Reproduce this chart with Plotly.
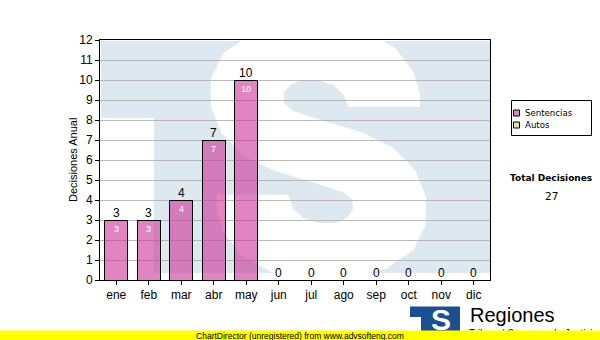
import plotly.graph_objects as go

# ---------------- data ----------------
months = ["ene", "feb", "mar", "abr", "may", "jun", "jul", "ago", "sep", "oct", "nov", "dic"]
sentencias = [3, 3, 4, 7, 10, 0, 0, 0, 0, 0, 0, 0]
autos = [0, 0, 0, 0, 0, 0, 0, 0, 0, 0, 0, 0]
series_names = ["Sentencias", "Autos"]
y_ticks = list(range(0, 13))
y_title = "Decisiones Anual"
total_label = "Total Decisiones"
footer_text = "ChartDirector (unregistered) from www.advsofteng.com"

# ---------------- layout constants ----------------
W, H = 600, 340
L, R, T, B = 100, 110, 40, 60
PW, PH = W - L - R, H - T - B

def px2paper(x, y):
    return (x - L) / PW, 1 - (y - T) / PH

def wm(zx, zy):
    # watermark design units -> pixels
    return 95 + zx / 3.0, 35 + zy / 3.0

def path_from(points):
    parts = []
    for i, (zx, zy) in enumerate(points):
        px, py = wm(zx, zy)
        X, Y = px2paper(px, py)
        parts.append(("M" if i == 0 else "L") + f"{X:.4f},{Y:.4f}")
    return " ".join(parts) + " Z"

s_points = [
    (760, 215), (745, 178), (715, 150), (670, 136), (620, 135), (585, 150), (566, 175),
    (568, 205), (595, 228), (680, 256), (800, 292), (895, 338), (960, 405), (993, 485),
    (992, 570), (955, 645), (875, 700), (770, 725), (650, 730), (530, 712), (440, 662),
    (385, 590), (365, 520), (365, 479), (580, 479), (595, 522), (625, 550), (670, 564),
    (720, 565), (755, 550), (774, 525), (772, 495), (745, 472), (660, 444), (540, 408),
    (445, 362), (380, 295), (347, 215), (348, 130), (385, 55), (465, 0), (570, -25),
    (690, -30), (810, -12), (900, 38), (955, 110), (975, 180), (975, 215),
]

BAR_COLOR = "rgba(204,51,153,0.6)"
LEG_COLORS = ["#e084c4", "#d4e8a4"]
AUTOS_COLOR = "#d4e8a4"
FIELD = "rgb(222,232,241)"
FONT = "Liberation Sans, Arial, sans-serif"
TFONT = "DejaVu Sans, Verdana, sans-serif"

fig = go.Figure()
fig.add_trace(go.Bar(
    x=months, y=sentencias, name=series_names[0],
    marker=dict(color=BAR_COLOR, line=dict(color="black", width=1)),
    hoverinfo="skip",
))
fig.add_trace(go.Bar(
    x=months, y=autos, name=series_names[1],
    marker=dict(color=AUTOS_COLOR, line=dict(color="black", width=0)),
    hoverinfo="skip",
))

def prect(x0, y0, x1, y1, fill, layer="below", line=None):
    a0, b0 = px2paper(x0, y0)
    a1, b1 = px2paper(x1, y1)
    return dict(type="rect", xref="paper", yref="paper", x0=a0, y0=b1, x1=a1, y1=b0,
                fillcolor=fill, line=line or dict(width=0), layer=layer)

shapes = []
shapes.append(prect(101, 41, 490, 273, FIELD))
shapes.append(prect(100.5, 118, 154, 274, "white"))
shapes.append(dict(type="path", xref="paper", yref="paper", path=path_from(s_points),
                   fillcolor="white", line=dict(width=0), layer="below"))
# logo block bottom right
shapes.append(prect(410, 306.5, 460, 332, "#1c4f90", layer="above"))
shapes.append(prect(410, 317, 421, 332, "white", layer="above"))
# manual legend
shapes.append(prect(511.5, 100.5, 591.5, 135.5, "white", layer="above",
                    line=dict(color="black", width=1)))
leg_y = [113, 125]
for c, yy in zip(LEG_COLORS, leg_y):
    shapes.append(prect(513.5, yy - 3, 519.5, yy + 3, c, layer="above",
                        line=dict(color="black", width=1)))

annotations = []
for name, yy in zip(series_names, leg_y):
    ax_, ay_ = px2paper(523, yy)
    annotations.append(dict(x=ax_, y=ay_, xref="paper", yref="paper", text=name, showarrow=False,
                            xanchor="left", yanchor="middle", font=dict(family=TFONT, size=8.6, color="black")))

for m, v in zip(months, sentencias):
    annotations.append(dict(x=m, y=v, xref="x", yref="y", text=str(v), showarrow=False,
                            yanchor="bottom", yshift=-2, font=dict(family=FONT, size=12, color="black")))
    if v > 0:
        annotations.append(dict(x=m, y=v, xref="x", yref="y", text=str(v), showarrow=False,
                                yanchor="top", yshift=-2, font=dict(family=FONT, size=9, color="white")))

# y axis title
yx, yy_ = px2paper(73, 160)
annotations.append(dict(x=yx, y=yy_, xref="paper", yref="paper", text=y_title, showarrow=False,
                        textangle=-90, xanchor="center", yanchor="middle",
                        font=dict(family=FONT, size=11, color="black")))

tx, ty = px2paper(551, 178)
annotations.append(dict(x=tx, y=ty, xref="paper", yref="paper", text="<b>" + total_label + "</b>",
                        showarrow=False, xanchor="center", yanchor="middle",
                        font=dict(family=TFONT, size=9, color="black")))
nx, ny = px2paper(551, 196)
annotations.append(dict(x=nx, y=ny, xref="paper", yref="paper", text=str(sum(sentencias) + sum(autos)),
                        showarrow=False, xanchor="center", yanchor="middle",
                        font=dict(family=TFONT, size=10.5, color="black")))
# logo text
sx, sy = px2paper(441, 319)
annotations.append(dict(x=sx, y=sy, xref="paper", yref="paper", text="<b>S</b>", showarrow=False,
                        xanchor="center", yanchor="middle",
                        font=dict(family=FONT, size=30, color="white")))
rx, ry = px2paper(468, 315)
annotations.append(dict(x=rx, y=ry, xref="paper", yref="paper", text="Regiones", showarrow=False,
                        xanchor="left", yanchor="middle", font=dict(family=FONT, size=20, color="black")))
ux, uy = px2paper(467, 326)
annotations.append(dict(x=ux, y=uy, xref="paper", yref="paper", text="Tribunal Supremo de Justicia",
                        showarrow=False, xanchor="left", yanchor="top", font=dict(family=FONT, size=10, color="black")))
# footer yellow band
ftx, fty = px2paper(300, 335.5)
annotations.append(dict(x=ftx, y=fty, xref="paper", yref="paper", text=footer_text, showarrow=False,
                        xanchor="center", yanchor="middle", width=600, height=9.5, borderpad=0,
                        bgcolor="#ffff00", font=dict(family=FONT, size=8.5, color="black")))

fig.update_layout(
    width=W, height=H, autosize=False,
    margin=dict(l=L, r=R, t=T, b=B, pad=0),
    paper_bgcolor="white", plot_bgcolor="rgba(0,0,0,0)",
    barmode="stack", bargap=0.28,
    showlegend=False,
    xaxis=dict(type="category", categoryorder="array", categoryarray=months,
               range=[-0.5, 11.5], showgrid=False, zeroline=False,
               showline=True, linecolor="black", linewidth=1, mirror=True,
               ticks="outside", ticklen=4, tickcolor="black",
               tickfont=dict(family=FONT, size=12, color="black")),
    yaxis=dict(range=[0, 12], tickvals=y_ticks, showgrid=True, gridcolor="#b8b8b8", gridwidth=1,
               zeroline=False, showline=True, linecolor="black", linewidth=1, mirror=True,
               ticks="outside", ticklen=4, tickcolor="black",
               tickfont=dict(family=FONT, size=12, color="black")),
    shapes=shapes,
    annotations=annotations,
)

fig.write_html("out.html")
